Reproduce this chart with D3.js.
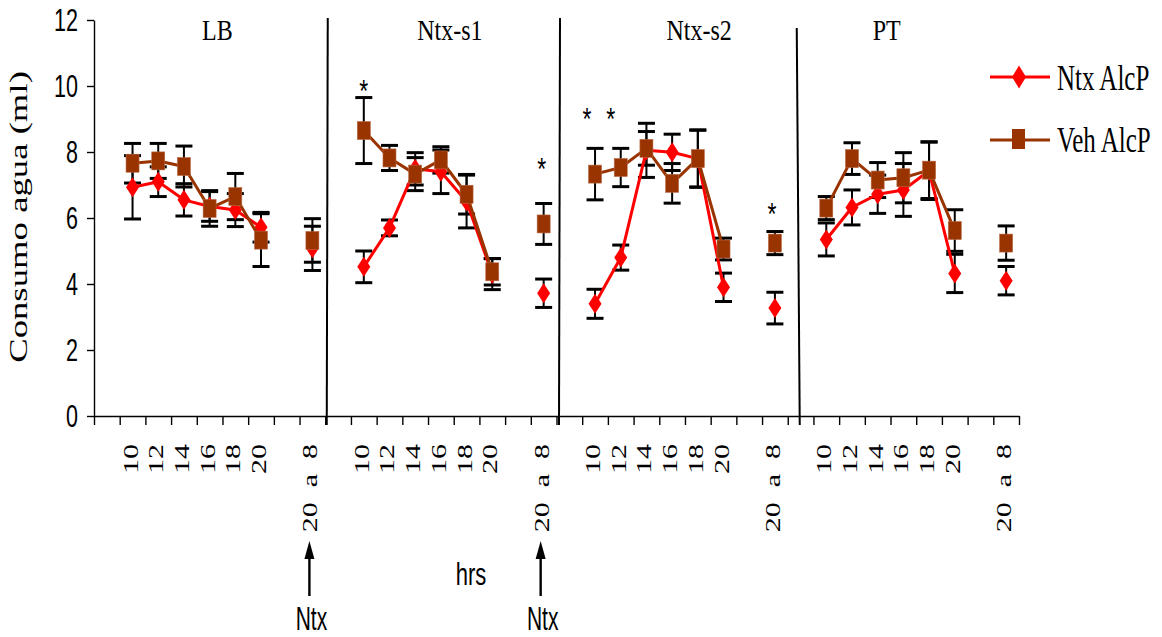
<!DOCTYPE html>
<html>
<head>
<meta charset="utf-8">
<script src="https://cdn.jsdelivr.net/npm/d3@7"></script>
<style>
  html, body { margin: 0; padding: 0; background: #fff; }
  svg { display: block; }
  .serif { font-family: "Liberation Serif", "Times New Roman", serif; }
  .sans  { font-family: "Liberation Sans", Arial, sans-serif; }
</style>
</head>
<body>
<svg id="chart" width="1162" height="637"></svg>
<script>
// ---- data -------------------------------------------------------------
const panels     = ["LB", "Ntx-s1", "Ntx-s2", "PT"];
// slots on the category axis inside one panel (blank slots keep the gaps)
const slotLabels = ["", "10", "12", "14", "16", "18", "20", "", "20  a  8"];
const hours      = ["10", "12", "14", "16", "18", "20", "20 a 8"];
const yTicks     = [0, 2, 4, 6, 8, 10, 12];
const seriesNames = ["Ntx AlcP", "Veh AlcP"];

// water intake (ml), one row per panel, columns follow `hours`
const ntxMean = [
  [6.93, 7.10, 6.55, 6.35, 6.24, 5.72, 5.08],
  [4.52, 5.70, 7.49, 7.40, 6.50, 4.30, 3.72],
  [3.40, 4.80, 8.05, 7.99, 7.80, 3.90, 3.27],
  [5.35, 6.32, 6.72, 6.85, 7.43, 4.32, 4.10]
];
const ntxErr = [
  [0.96, 0.45, 0.49, 0.45, 0.50, 0.45, 0.67],
  [0.48, 0.24, 0.49, 0.66, 0.80, 0.47, 0.43],
  [0.44, 0.38, 0.82, 0.55, 0.86, 0.43, 0.48],
  [0.50, 0.53, 0.58, 0.80, 0.87, 0.58, 0.43]
];
const vehMean = [
  [7.66, 7.73, 7.56, 6.29, 6.65, 5.33, 5.32],
  [8.65, 7.82, 7.33, 7.76, 6.72, 4.37, 5.82],
  [7.33, 7.53, 8.11, 7.05, 7.80, 5.06, 5.24],
  [6.30, 7.80, 7.15, 7.22, 7.45, 5.62, 5.24]
];
const vehErr = [
  [0.60, 0.53, 0.62, 0.54, 0.70, 0.80, 0.66],
  [1.00, 0.38, 0.50, 0.40, 0.60, 0.40, 0.62],
  [0.78, 0.58, 0.51, 0.60, 0.87, 0.33, 0.35],
  [0.35, 0.48, 0.53, 0.76, 0.86, 0.63, 0.52]
];

// significance marks: [panel, hour index] and the level (ml) they sit at
const starPoints = [[1, 0], [1, 6], [2, 0], [2, 1], [2, 6]];
const starLevels = [10.09, 7.70, 9.23, 9.23, 6.35];

// Ntx injection arrows: panels whose "20 a 8" slot is marked
const ntxArrowPanels = [0, 1];

// ---- layout -----------------------------------------------------------
const RED = "#FF0000", BROWN = "#993300";
const svg = d3.select("#chart");
const nSlots = panels.length * slotLabels.length;

const x = d3.scaleBand().domain(d3.range(nSlots)).range([94, 1019]);
const xEdge = d3.scaleLinear().domain([0, nSlots]).range([94, 1019]);
const y = d3.scaleLinear().domain([0, 12]).range([416, 20]);

const slotOf = (p, h) => p * slotLabels.length + (h < 6 ? h + 1 : 8);
const cx = s => x(s) + x.bandwidth() / 2;

// points table built from the arrays above
function buildPoints(mean, err) {
  const out = [];
  mean.forEach((row, p) => row.forEach((v, h) => {
    out.push({ p, h, slot: slotOf(p, h), v, e: err[p][h] });
  }));
  return out;
}
const ntxPts = buildPoints(ntxMean, ntxErr);
const vehPts = buildPoints(vehMean, vehErr);

// ---- axes -------------------------------------------------------------
const gy = svg.append("g")
  .attr("transform", "translate(94,0)")
  .call(d3.axisLeft(y).tickValues(yTicks).tickSize(7).tickSizeOuter(0).tickFormat(""));
gy.selectAll("path,line").attr("stroke", "#000").attr("stroke-width", 1.4);

svg.append("g").selectAll("text").data(yTicks).join("text")
  .attr("class", "sans")
  .attr("font-size", 21.5)
  .attr("text-anchor", "end")
  .attr("dy", "0.36em")
  .attr("transform", d => `translate(78,${y(d)}) scale(1,1.48)`)
  .text(d => d);

const gx = svg.append("g")
  .attr("transform", "translate(0,416)")
  .call(d3.axisBottom(xEdge).tickValues(d3.range(nSlots + 1)).tickSize(9).tickSizeOuter(0).tickFormat(""));
gx.selectAll("path,line").attr("stroke", "#000").attr("stroke-width", 1.4);

// rotated hour labels
const labelSlots = d3.range(nSlots).filter(s => slotLabels[s % slotLabels.length] !== "");
svg.append("g").selectAll("text").data(labelSlots).join("text")
  .attr("class", "serif")
  .attr("font-size", 20)
  .attr("text-anchor", "end")
  .attr("xml:space", "preserve")
  .style("white-space", "pre")
  .attr("transform", s => `translate(${cx(s) + 5},444) scale(1,1.5) rotate(-90)`)
  .text(s => slotLabels[s % slotLabels.length]);

// y title
svg.append("text")
  .attr("class", "serif")
  .attr("font-size", 25)
  .attr("text-anchor", "middle")
  .attr("transform", "translate(27,217) scale(1,1.47) rotate(-90)")
  .text("Consumo agua (ml)");

// x title
svg.append("text")
  .attr("class", "sans")
  .attr("font-size", 22)
  .attr("text-anchor", "middle")
  .attr("transform", "translate(471,585) scale(1,1.4)")
  .text("hrs");

// ---- panel dividers and titles ---------------------------------------
const dividerNudge = [[2.5, 1.5], [3.5, 2.5], [9, 12]];   // top / bottom shift (px)
const dividerTop = [18, 18, 28];
[1, 2, 3].forEach((k, i) => {
  const bx = xEdge(k * slotLabels.length);
  svg.append("line")
    .attr("x1", bx + dividerNudge[i][0]).attr("y1", dividerTop[i])
    .attr("x2", bx + dividerNudge[i][1]).attr("y2", 425)
    .attr("stroke", "#000").attr("stroke-width", 2);
});

const titleSlot = [4.8, 4.85, 5.55, 3.85];
svg.append("g").selectAll("text").data(panels).join("text")
  .attr("class", "serif")
  .attr("font-size", 24)
  .attr("text-anchor", "middle")
  .attr("transform", (d, i) => `translate(${xEdge(i * slotLabels.length + titleSlot[i])},40) scale(1,1.25)`)
  .text(d => d);

// ---- error bars -------------------------------------------------------
const capW = 17;
const gErr = svg.append("g").attr("stroke", "#000");
[...ntxPts, ...vehPts].forEach(d => {
  const X = cx(d.slot);
  gErr.append("line")
    .attr("x1", X).attr("x2", X)
    .attr("y1", y(d.v - d.e)).attr("y2", y(d.v + d.e))
    .attr("stroke-width", 2);
  [d.v - d.e, d.v + d.e].forEach(val => {
    gErr.append("line")
      .attr("x1", X - capW / 2).attr("x2", X + capW / 2)
      .attr("y1", y(val)).attr("y2", y(val))
      .attr("stroke-width", 3);
  });
});

// ---- series lines and markers ----------------------------------------
const line = d3.line().x(d => cx(d.slot)).y(d => y(d.v));
const diamond = (w, h) => `M0,${-h / 2}L${w / 2},0L0,${h / 2}L${-w / 2},0Z`;

function drawSeries(pts, color, kind) {
  const g = svg.append("g");
  panels.forEach((_, p) => {
    const run = pts.filter(d => d.p === p && d.h < 6);
    g.append("path").attr("d", line(run))
      .attr("fill", "none").attr("stroke", color)
      .attr("stroke-width", 3).attr("stroke-linejoin", "round");
  });
  if (kind === "diamond") {
    g.selectAll("path.mk").data(pts).join("path").attr("class", "mk")
      .attr("d", diamond(13, 20))
      .attr("transform", d => `translate(${cx(d.slot)},${y(d.v)})`)
      .attr("fill", color);
  } else {
    g.selectAll("rect.mk").data(pts).join("rect").attr("class", "mk")
      .attr("x", d => cx(d.slot) - 6.5).attr("y", d => y(d.v) - 9)
      .attr("width", 13).attr("height", 18)
      .attr("fill", color).attr("stroke", "#b86a45").attr("stroke-width", 0.6);
  }
}
drawSeries(ntxPts, RED, "diamond");
drawSeries(vehPts, BROWN, "square");

// ---- significance stars ----------------------------------------------
const starNudge = [0, -2, -8, -10, -3];
const starSize = 23, starStretch = 1.4;
svg.append("g").selectAll("text").data(starPoints).join("text")
  .attr("class", "sans")
  .attr("font-size", starSize)
  .attr("text-anchor", "middle")
  .attr("transform", (d, i) =>
    `translate(${cx(slotOf(d[0], d[1])) + starNudge[i]},${y(starLevels[i]) + 0.575 * starSize * starStretch}) scale(1,${starStretch})`)
  .text("*");

// ---- Ntx arrows -------------------------------------------------------
ntxArrowPanels.forEach(p => {
  const X = cx(slotOf(p, 6)) - 3;
  svg.append("line").attr("x1", X).attr("x2", X).attr("y1", 596).attr("y2", 556)
    .attr("stroke", "#000").attr("stroke-width", 2.4);
  svg.append("path").attr("d", `M${X},541L${X + 5},559L${X - 5},559Z`).attr("fill", "#000");
  svg.append("text")
    .attr("class", "sans")
    .attr("font-size", 21)
    .attr("text-anchor", "middle")
    .attr("transform", `translate(${X + 2},630) scale(1,1.55)`)
    .text("Ntx");
});

// ---- legend -----------------------------------------------------------
const legendRows = [
  { name: seriesNames[0], color: RED, kind: "diamond", ly: 77, base: 90 },
  { name: seriesNames[1], color: BROWN, kind: "square", ly: 140, base: 152 }
];
const gl = svg.append("g");
legendRows.forEach(r => {
  gl.append("line").attr("x1", 990).attr("x2", 1050).attr("y1", r.ly).attr("y2", r.ly)
    .attr("stroke", r.color).attr("stroke-width", 3);
  if (r.kind === "diamond") {
    gl.append("path").attr("d", diamond(14, 23))
      .attr("transform", `translate(1019,${r.ly})`).attr("fill", r.color);
  } else {
    gl.append("rect").attr("x", 1012).attr("y", r.ly - 11).attr("width", 13).attr("height", 20)
      .attr("fill", r.color);
  }
  gl.append("text")
    .attr("class", "serif")
    .attr("font-size", 25)
    .attr("transform", `translate(1057,${r.base}) scale(1,1.45)`)
    .text(r.name);
});
</script>
</body>
</html>
